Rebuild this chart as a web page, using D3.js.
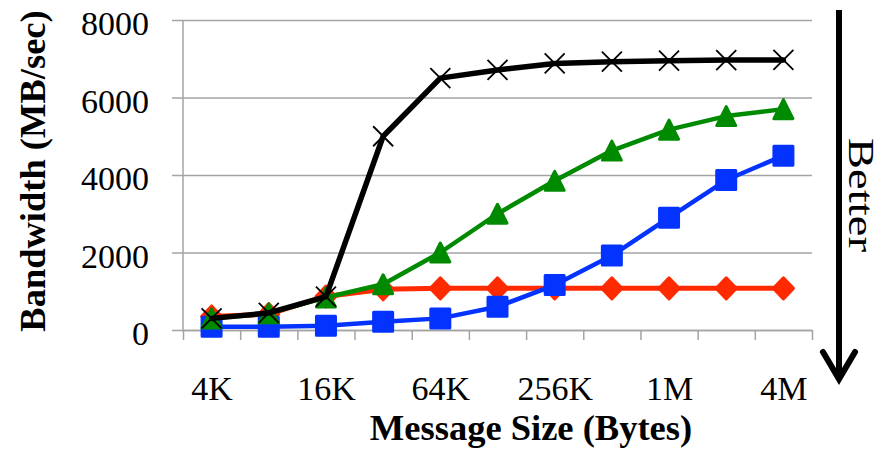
<!DOCTYPE html>
<html>
<head>
<meta charset="utf-8">
<script src="https://cdn.jsdelivr.net/npm/d3@7"></script>
<style>
  html, body { margin: 0; padding: 0; background: #fff; }
  svg { display: block; }
  text { font-family: "Liberation Serif", "Times New Roman", Times, serif; fill: #000; }
</style>
</head>
<body>
<script>
// Message sizes on the x axis and the labelled subset
const categories = ["4K", "8K", "16K", "32K", "64K", "128K", "256K", "512K", "1M", "2M", "4M"];
const tickLabels = ["4K", "16K", "64K", "256K", "1M", "4M"];
const yTicks = [0, 2000, 4000, 6000, 8000];

// Bandwidth (MB/sec) per message size
const redValues   = [350, 410, 865, 1050, 1075, 1075, 1075, 1075, 1075, 1075, 1075];
const blueValues  = [85, 85, 110, 210, 300, 600, 1160, 1920, 2900, 3870, 4500];
const greenValues = [300, 430, 840, 1180, 2000, 3000, 3850, 4630, 5170, 5520, 5700];
const blackValues = [300, 440, 860, 5000, 6500, 6710, 6880, 6925, 6950, 6965, 6970];

const W = 882, H = 450;
const plot = { left: 183, right: 812, top: 20, bottom: 330 };
const gridColor = "#a3a3a3";

const svg = d3.select("body").append("svg")
  .attr("width", W).attr("height", H);
svg.append("rect").attr("width", W).attr("height", H).attr("fill", "#fff");

const x = d3.scalePoint().domain(categories).range([plot.left, plot.right]).padding(0.5);
const xEdge = d3.scaleLinear().domain([0, categories.length]).range([plot.left, plot.right]);
const y = d3.scaleLinear().domain([0, 8000]).range([plot.bottom, plot.top]);

// horizontal gridlines (extend a little left of the axis as tick marks)
svg.append("g")
  .attr("transform", `translate(${plot.right},0)`)
  .call(d3.axisLeft(y).tickValues(yTicks).tickSize(plot.right - 172).tickFormat(""))
  .call(g => g.select(".domain").remove())
  .selectAll("line").attr("stroke", gridColor).attr("stroke-width", 1.5);

// vertical axis line
svg.append("line")
  .attr("x1", plot.left).attr("x2", plot.left)
  .attr("y1", y(8000)).attr("y2", y(0))
  .attr("stroke", gridColor).attr("stroke-width", 1.5);

// category boundary tick marks along the bottom
svg.append("g")
  .attr("transform", `translate(0,${plot.bottom})`)
  .call(d3.axisBottom(xEdge).tickValues(d3.range(categories.length + 1)).tickSize(10).tickSizeOuter(0).tickFormat(""))
  .call(g => g.select(".domain").attr("stroke", gridColor).attr("stroke-width", 1.5))
  .selectAll("line").attr("stroke", gridColor).attr("stroke-width", 1.5);

// y tick labels
svg.append("g")
  .attr("transform", `translate(${plot.left},0)`)
  .call(d3.axisLeft(y).tickValues(yTicks).tickSize(0).tickPadding(34).tickFormat(d3.format("d")))
  .call(g => g.select(".domain").remove())
  .selectAll("text")
  .attr("dy", "0.44em")
  .style("font-size", "34px")
  .style("font-family", "'Liberation Serif', 'Times New Roman', serif");

// x tick labels
svg.append("g")
  .attr("transform", `translate(0,${plot.bottom})`)
  .call(d3.axisBottom(x).tickValues(tickLabels).tickSize(0).tickPadding(46))
  .call(g => g.select(".domain").remove())
  .selectAll("text")
  .style("font-size", "34px")
  .style("font-family", "'Liberation Serif', 'Times New Roman', serif");

// marker shapes
const squareShape = { draw(ctx, s) { const h = s / 2; ctx.rect(-h, -h, s, s); } };
const triangleShape = { draw(ctx, s) { const h = s / 2; ctx.moveTo(0, -h); ctx.lineTo(h, h); ctx.lineTo(-h, h); ctx.closePath(); } };
const diamondShape = { draw(ctx, s) { const h = s / 2; ctx.moveTo(0, -h - 0.5); ctx.lineTo(h, 0); ctx.lineTo(0, h + 0.5); ctx.lineTo(-h, 0); ctx.closePath(); } };
const crossShape = { draw(ctx, s) { const h = s / 2; ctx.moveTo(-h, -h); ctx.lineTo(h, h); ctx.moveTo(h, -h); ctx.lineTo(-h, h); } };

const series = [
  { values: redValues,   color: "#ff2a00", width: 5,   shape: diamondShape,  size: 20, filled: true },
  { values: blueValues,  color: "#0433ff", width: 4.5, shape: squareShape,   size: 19, filled: true },
  { values: greenValues, color: "#008a00", width: 4.5, shape: triangleShape, size: 19, filled: true },
  { values: blackValues, color: "#000000", width: 5.5, shape: crossShape,    size: 20, filled: false }
];

const line = d3.line()
  .x((d, i) => x(categories[i]))
  .y(d => y(d));

series.forEach(s => {
  const g = svg.append("g");
  g.append("path")
    .attr("d", line(s.values))
    .attr("fill", "none")
    .attr("stroke", s.color)
    .attr("stroke-width", s.width)
    .attr("stroke-linejoin", "round")
    .attr("stroke-linecap", "round");
  const sym = d3.symbol().type(s.shape).size(s.size);
  g.selectAll("path.mark")
    .data(s.values)
    .join("path")
    .attr("class", "mark")
    .attr("transform", (d, i) => `translate(${x(categories[i])},${y(d)})`)
    .attr("d", sym)
    .attr("fill", s.filled ? s.color : "none")
    .attr("stroke", s.color)
    .attr("stroke-width", s.filled ? 3 : 1.8)
    .attr("stroke-linejoin", "round");
});

// axis titles
svg.append("text")
  .attr("x", 531).attr("y", 440)
  .attr("text-anchor", "middle")
  .style("font-size", "36.5px").style("font-weight", "bold")
  .text("Message Size (Bytes)");

svg.append("text")
  .attr("transform", "translate(45,171) rotate(-90)")
  .attr("text-anchor", "middle")
  .style("font-size", "36.5px").style("font-weight", "bold")
  .text("Bandwidth (MB/sec)");

// "Better" direction arrow
svg.append("line")
  .attr("x1", 839).attr("x2", 839).attr("y1", 10).attr("y2", 378)
  .attr("stroke", "#000").attr("stroke-width", 6);
svg.append("polyline")
  .attr("points", "823,352 839,379 855,352")
  .attr("fill", "none").attr("stroke", "#000").attr("stroke-width", 6)
  .attr("stroke-linejoin", "miter").attr("stroke-linecap", "round");

svg.append("text")
  .attr("transform", "translate(849,138) rotate(90)")
  .attr("text-anchor", "start")
  .attr("textLength", 114).attr("lengthAdjust", "spacingAndGlyphs")
  .style("font-size", "36px")
  .text("Better");
</script>
</body>
</html>
